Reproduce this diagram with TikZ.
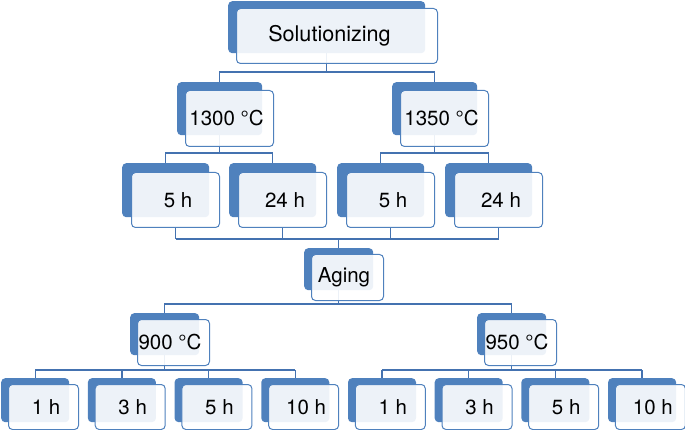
\documentclass[tikz,border=0pt]{standalone}
\usepackage{fontspec}
\setmainfont{TeX Gyre Heros}
\usepackage{tikz}
\usetikzlibrary{backgrounds}

\definecolor{boxblue}{RGB}{79,129,189}
\definecolor{linkblue}{RGB}{68,114,176}

\tikzset{
  backbox/.style={fill=boxblue, rounded corners=4pt, inner sep=0pt, anchor=north west},
  frontbox/.style={draw=boxblue, line width=1pt, fill=white, fill opacity=0.9, text opacity=1,
    rounded corners=4pt, inner sep=0pt, anchor=north west, font=\fontsize{20.5}{24}\selectfont},
  link/.style={draw=linkblue, line width=1.3pt},
  % sizes of the two boxes on each level
  topback/.style={minimum width=197pt, minimum height=52pt},
  topfront/.style={minimum width=201pt, minimum height=55pt, xshift=8pt, yshift=-7pt,
    font=\fontsize{21.6}{26}\selectfont, execute at begin node={\hspace*{-15pt}}},
  tempback/.style={minimum width=85pt, minimum height=53pt},
  tempfront/.style={minimum width=88pt, minimum height=56pt, xshift=8pt, yshift=-8pt,
    execute at begin node={\hspace*{-6pt}}},
  timeback/.style={minimum width=87pt, minimum height=54pt},
  timefront/.style={minimum width=88pt, minimum height=55pt, xshift=9pt, yshift=-9pt,
    execute at begin node={\hspace*{5pt}}},
  ageback/.style={minimum width=69pt, minimum height=42pt},
  agefront/.style={minimum width=72pt, minimum height=46pt, xshift=7pt, yshift=-6pt,
    execute at begin node={\hspace*{-7pt}}},
  smallback/.style={minimum width=68pt, minimum height=44pt},
  smallfront/.style={minimum width=70pt, minimum height=45pt, xshift=7pt, yshift=-6pt,
    execute at begin node={\hspace*{5pt}}},
}

% name, x, y, level, text
\newcommand{\duobox}[5]{%
  \node[backbox, #4back] (#1-b) at (#2,#3) {};
  \node[frontbox, #4front] (#1) at (#1-b.north west) {#5};
}

\begin{document}
\begin{tikzpicture}[x=1pt, y=-1pt]
  \useasboundingbox (0,0) rectangle (685,430);

  % Solutionizing branch
  \duobox{sol}{228}{1}{top}{Solutionizing}
  \duobox{s1300}{177}{82}{temp}{1300 °C}
  \duobox{s1350}{392}{82}{temp}{1350 °C}
  \duobox{s1300h5}{122}{163}{time}{5 h}
  \duobox{s1300h24}{229}{163}{time}{24 h}
  \duobox{s1350h5}{337}{163}{time}{5 h}
  \duobox{s1350h24}{445}{163}{time}{24 h}

  % Aging branch
  \duobox{aging}{304}{248}{age}{Aging}
  \duobox{a900}{130}{313}{age}{900 °C}
  \duobox{a950}{477}{313}{age}{950 °C}
  \foreach \t/\h [count=\i from 0] in {900/1,900/3,900/5,900/10,950/1,950/3,950/5,950/10} {
    \pgfmathsetmacro\xx{1+86.7*\i}
    \duobox{a\t h\h}{\xx}{378}{small}{\h\ h}
  }

  \begin{pgfonlayer}{background}
    \coordinate (busA) at (0,72);
    \coordinate (busB) at (0,153);
    \coordinate (busC) at (0,239);
    \coordinate (busD) at (0,304);
    \coordinate (busE) at (0,370);

    \draw[link] (sol-b.south) -- (sol-b.south |- busA) -| (s1300-b.north);
    \draw[link] (sol-b.south |- busA) -| (s1350-b.north);

    \draw[link] (s1300-b.south) -- (s1300-b.south |- busB);
    \draw[link] (s1300h5-b.north) |- (s1300h24-b.north |- busB) -- (s1300h24-b.north);
    \draw[link] (s1350-b.south) -- (s1350-b.south |- busB);
    \draw[link] (s1350h5-b.north) |- (s1350h24-b.north |- busB) -- (s1350h24-b.north);

    \foreach \n in {s1300h5, s1300h24, s1350h5, s1350h24} {
      \draw[link] (\n.south) -- (\n.south |- busC);
    }
    \draw[link] (s1300h5.south |- busC) -- (s1350h24.south |- busC);
    \draw[link] (aging-b.north) -- (aging-b.north |- busC);

    \draw[link] (aging-b.south) -- (aging-b.south |- busD);
    \draw[link] (a900-b.north) |- (a950-b.north |- busD) -- (a950-b.north);

    \foreach \t in {900, 950} {
      \draw[link] (a\t-b.south) -- (a\t-b.south |- busE);
      \draw[link] (a\t h1-b.north |- busE) -- (a\t h10-b.north |- busE);
      \foreach \h in {1, 3, 5, 10} {
        \draw[link] (a\t h\h-b.north) -- (a\t h\h-b.north |- busE);
      }
    }
  \end{pgfonlayer}
\end{tikzpicture}
\end{document}
